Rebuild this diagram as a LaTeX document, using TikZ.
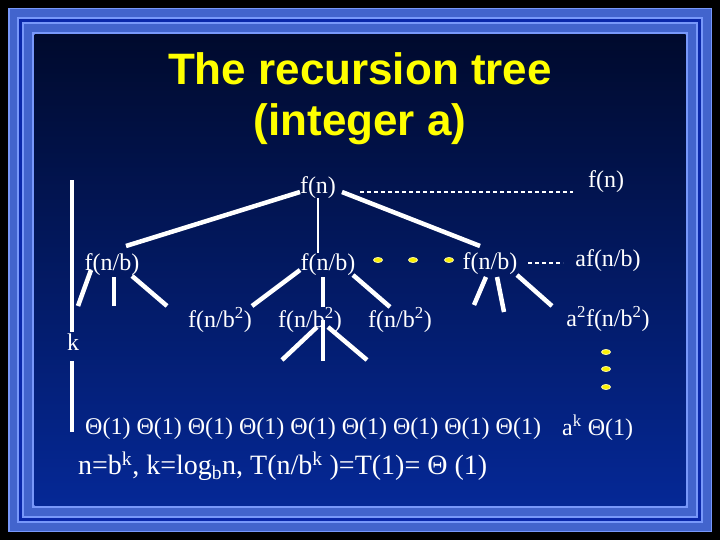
\documentclass[tikz,border=0pt]{standalone}
\usepackage{fontspec}
\setmainfont{Liberation Serif}
\newfontfamily\titlefont{Liberation Sans}
\usetikzlibrary{calc,shapes.geometric}
\definecolor{ttl}{RGB}{255,255,0}
\definecolor{fmid}{RGB}{66,100,205}
\definecolor{flt}{RGB}{120,152,250}
\definecolor{fdk}{RGB}{10,40,170}
\definecolor{bgtop}{RGB}{0,10,45}
\definecolor{bgbot}{RGB}{5,40,150}
\definecolor{dotc}{RGB}{250,240,0}

\begin{document}
\begin{tikzpicture}[x=1pt, y=-1pt,
  lbl/.style={text=white, font=\fontsize{24}{28}\selectfont, inner sep=0pt},
  heading/.style={text=ttl, font=\titlefont\bfseries\fontsize{44}{52}\selectfont, anchor=base},
  edge/.style={draw=white, line width=4.5pt},
  stem/.style={draw=white, line width=2pt},
  dashline/.style={draw=white, line width=1.5pt, dash pattern=on 4pt off 3pt},
  ydot/.style={ellipse, fill=dotc, draw=yellow!35!white, line width=0.8pt, minimum width=9pt, minimum height=5pt, inner sep=0pt}
]
\useasboundingbox (0,0) rectangle (720,540);
% slide frame
\fill[black] (0,0) rectangle (720,540);
\fill[flt] (8,8) rectangle (712,532);
\fill[fmid] (9.5,9.5) rectangle (710.5,530.5);
\fill[flt] (17,17) rectangle (703,523);
\fill[fdk] (19,19) rectangle (701,521);
\fill[flt] (22,22) rectangle (698,518);
\fill[fmid] (24,24) rectangle (696,516);
\fill[flt] (32,32) rectangle (688,508);
\shade[top color=bgtop, bottom color=bgbot] (34.5,34.5) rectangle (685.5,505.5);
% title
\node[heading] (title1) at (360,85) {The recursion tree};
\node[heading] (title2) at (360,136) {(integer a)};
% tree
\node[lbl] (root) at (318,188) {f(n)};
\node[lbl] (lb) at (112,265) {f(n/b)};
\node[lbl] (mb) at (328,265) {f(n/b)};
\node[lbl] (rb) at (490,264) {f(n/b)};
\node[lbl] (m1) at (220,320) {f(n/b\textsuperscript{2})};
\node[lbl] (m2) at (310,320) {f(n/b\textsuperscript{2})};
\node[lbl] (m3) at (400,320) {f(n/b\textsuperscript{2})};
% level sums
\node[lbl] (lvl0) at (606,182) {f(n)};
\node[lbl] (lvl1) at (608,261) {af(n/b)};
\node[lbl] (lvl2) at (608,319) {a\textsuperscript{2}f(n/b\textsuperscript{2})};
\node[lbl, anchor=west] (leaves) at (85,429) {Θ(1) Θ(1) Θ(1) Θ(1) Θ(1) Θ(1) Θ(1) Θ(1) Θ(1)};
\node[lbl, anchor=west] (lvlk) at (562,428) {a\textsuperscript{k} Θ(1)};
\node[lbl, anchor=west, font=\fontsize{28}{32}\selectfont] (sum) at (78,466) {n=b\textsuperscript{k}, k=log\textsubscript{b}n, T(n/b\textsuperscript{k} )=T(1)= Θ (1)};
\node[lbl] (k) at (73,342) {k};
% dots
\node[ydot] (d1) at (378,260) {};
\node[ydot] (d2) at (413,260) {};
\node[ydot] (d3) at (449,260) {};
\node[ydot] (v1) at (606,352) {};
\node[ydot] (v2) at (606,369) {};
\node[ydot] (v3) at (606,387) {};
% free ends
\coordinate (lb1) at (78,306);
\coordinate (lb2) at (114,306);
\coordinate (lb3) at (167,306);
\coordinate (m2a) at (282,360);
\coordinate (m2b) at (323,361);
\coordinate (m2c) at (367,360);
\coordinate (rb1) at (474,305);
\coordinate (rb2) at (504,312);
\coordinate (rb3) at (552,306);
\coordinate (ktop) at (72,180);
\coordinate (kbot) at (72,432);
% root to level 1
\draw[edge] ($(root)+(-18,4)$) -- ($(lb)+(14,-19)$);
\draw[stem] ($(root)+(0,10)$) -- ($(mb)+(-10,-12)$);
\draw[edge] ($(root)+(24,4)$) -- ($(rb)+(-10,-18)$);
\draw[dashline] ($(root)+(42,4)$) -- ($(lvl0)+(-33,10)$);
\draw[dashline] ($(rb)+(38,-1)$) -- ($(lvl1)+(-45,2)$);
% level 1 to level 2
\draw[edge] ($(lb)+(-21,5)$) -- (lb1);
\draw[edge] ($(lb)+(2,12)$) -- (lb2);
\draw[edge] ($(lb)+(20,11)$) -- (lb3);
\draw[edge] ($(mb)+(-28,5)$) -- ($(m1)+(32,-14)$);
\draw[edge] ($(mb)+(-5,12)$) -- ($(m2)+(13,-13)$);
\draw[edge] ($(mb)+(25,10)$) -- ($(m3)+(-10,-13)$);
\draw[edge] ($(rb)+(-4,13)$) -- (rb1);
\draw[edge] ($(rb)+(7,13)$) -- (rb2);
\draw[edge] ($(rb)+(27,11)$) -- (rb3);
% below the middle f(n/b^2)
\draw[edge] ($(m2)+(7,7)$) -- (m2a);
\draw[edge] ($(m2)+(13,0)$) -- (m2b);
\draw[edge] ($(m2)+(18,7)$) -- (m2c);
% depth k
\draw[line width=4pt, white] ($(k)+(-1,-10)$) -- (ktop);
\draw[line width=4pt, white] ($(k)+(-1,19)$) -- (kbot);
\end{tikzpicture}
\end{document}
